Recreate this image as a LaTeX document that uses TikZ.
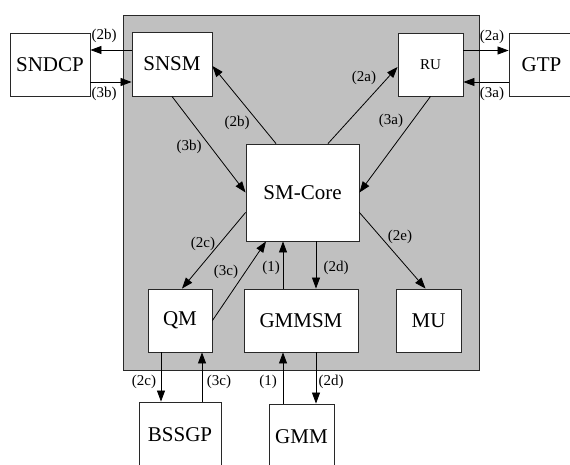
\documentclass[tikz,border=0pt]{standalone}
\usepackage{fontspec}
\setmainfont{Liberation Serif}
\usetikzlibrary{arrows.meta}
\definecolor{boxgray}{RGB}{192,192,192}
\definecolor{edge}{RGB}{40,40,40}
\begin{document}
\begin{tikzpicture}[x=1pt,y=-1pt,
  box/.style={draw=edge,line width=0.9pt,fill=white,rectangle,inner sep=0pt,font=\fontsize{21}{24}\selectfont},
  smallbox/.style={box,font=\fontsize{15}{18}\selectfont},
  container/.style={draw=edge,line width=0.9pt,fill=boxgray,rectangle,inner sep=0pt},
  arr/.style={line width=0.8pt,-{Triangle[length=11pt,width=8pt]}},
  lbl/.style={font=\fontsize{15}{18}\selectfont,inner sep=0pt}]
\clip (0,0) rectangle (570,465);
\fill[white] (0,0) rectangle (570,465);
\node[container,minimum width=356pt,minimum height=355pt] (sm) at (301,192.5) {};
\node[box,minimum width=80pt,minimum height=63pt] (sndcp) at (50,64.5) {SNDCP};
\node[box,minimum width=80pt,minimum height=64pt] (snsm) at (172,64) {SNSM};
\node[smallbox,minimum width=65pt,minimum height=63pt] (ru) at (430.5,64.5) {RU};
\node[box,minimum width=65pt,minimum height=63pt] (gtp) at (541.5,64.5) {GTP};
\node[box,minimum width=113pt,minimum height=97pt] (smcore) at (302.5,192.5) {SM-Core};
\node[box,minimum width=64pt,minimum height=63pt] (qm) at (180,320.5) {QM};
\node[box,minimum width=114pt,minimum height=63pt] (gmmsm) at (301,320.5) {GMMSM};
\node[box,minimum width=65pt,minimum height=63pt] (mu) at (428.5,320.5) {MU};
\node[box,minimum width=82pt,minimum height=66pt] (bssgp) at (180,435) {BSSGP};
\node[box,minimum width=65pt,minimum height=66pt] (gmm) at (301.5,437) {GMM};
% SNSM <-> SNDCP
\draw[arr] ([yshift=14pt]snsm.west) -- ([yshift=14pt]sndcp.east |- snsm.west);
\draw[arr] ([yshift=-17.5pt]sndcp.east) -- ([yshift=-17.5pt]snsm.west |- sndcp.east);
\node[lbl] (l2b) at (104,36) {(2b)};
\node[lbl] (l3b) at (104,94) {(3b)};
% RU <-> GTP
\draw[arr] ([yshift=14pt]ru.east) -- ([yshift=14pt]gtp.west |- ru.east);
\draw[arr] ([yshift=-17.5pt]gtp.west) -- ([yshift=-17.5pt]ru.east |- gtp.west);
\node[lbl] (l2a) at (492,37) {(2a)};
\node[lbl] (l3a) at (492,94) {(3a)};
% diagonals
\draw[arr] ([xshift=-26.5pt]smcore.north) -- ([yshift=-2pt]snsm.east);
\node[lbl] (d2b) at (237,123) {(2b)};
\draw[arr] (snsm.south) -- (smcore.west);
\node[lbl] (d3b) at (189,147) {(3b)};
\draw[arr] ([xshift=25.5pt]smcore.north) -- ([yshift=-2.5pt]ru.west);
\node[lbl] (d2a) at (364,78) {(2a)};
\draw[arr] (ru.south) -- (smcore.east);
\node[lbl] (d3a) at (391,121) {(3a)};
\draw[arr] ([yshift=-20pt]smcore.west) -- ([xshift=2pt]qm.north);
\node[lbl] (d2c) at (203,244) {(2c)};
\draw[arr] (qm.east) -- ([xshift=-36.5pt]smcore.south);
\node[lbl] (d3c) at (226,272) {(3c)};
\draw[arr] ([xshift=-18pt]gmmsm.north) -- ([xshift=-18pt]gmmsm.north |- smcore.south);
\node[lbl] (d1) at (271,268) {(1)};
\draw[arr] ([xshift=15pt]gmmsm.north |- smcore.south) -- ([xshift=15pt]gmmsm.north);
\node[lbl] (d2d) at (336,268) {(2d)};
\draw[arr] ([yshift=-20pt]smcore.east) -- ([xshift=-3pt]mu.north);
\node[lbl] (d2e) at (400,237) {(2e)};
% lower
\draw[arr] ([xshift=-19pt]qm.south) -- ([xshift=-19pt]qm.south |- bssgp.north);
\node[lbl] (b2c) at (144,382) {(2c)};
\draw[arr] ([xshift=22pt]qm.south |- bssgp.north) -- ([xshift=22pt]qm.south);
\node[lbl] (b3c) at (219,382) {(3c)};
\draw[arr] ([xshift=-18pt]gmmsm.south |- gmm.north) -- ([xshift=-18pt]gmmsm.south);
\node[lbl] (b1) at (268,382) {(1)};
\draw[arr] ([xshift=15pt]gmmsm.south) -- ([xshift=15pt]gmmsm.south |- gmm.north);
\node[lbl] (b2d) at (331,382) {(2d)};
\end{tikzpicture}
\end{document}
